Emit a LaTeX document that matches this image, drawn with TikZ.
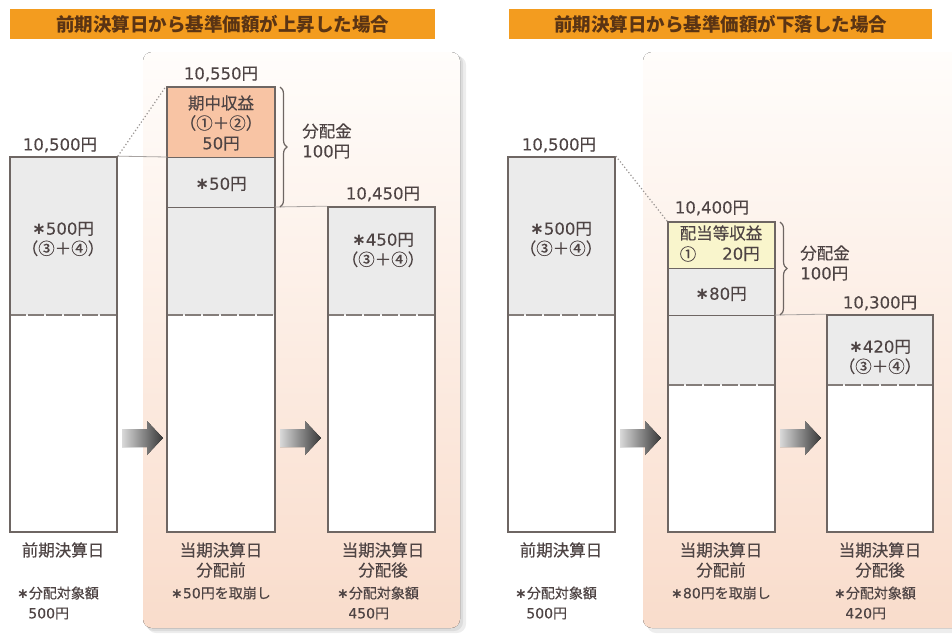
\documentclass[tikz,border=0pt]{standalone}
\usepackage{fontspec}
\newfontfamily\jp[FakeBold=0.35]{Noto Sans CJK JP}
\newfontfamily\jpt{Noto Sans CJK JP}
\newfontfamily\nm[FakeBold=0.15]{DejaVu Sans}
\newfontfamily\astfont{DejaVu Sans}
\newcommand{\num}[1]{{\nm #1}}
\newcommand{\kome}{{\astfont\bfseries ∗}}
\usetikzlibrary{decorations.pathreplacing}
\definecolor{titlebg}{HTML}{F39C1F}
\definecolor{titletx}{HTML}{5A3414}
\definecolor{txtc}{HTML}{4E4444}
\definecolor{boxc}{HTML}{6E6663}
\definecolor{greyf}{HTML}{EBEBEB}
\definecolor{orangef}{HTML}{F8C4A4}
\definecolor{yellowf}{HTML}{F9F5CC}
\definecolor{paneltop}{HTML}{FFFDFB}
\definecolor{panelbot}{HTML}{F9DCCB}
\tikzset{
  titlebar/.style={fill=titlebg, inner sep=0, text=titletx, font=\jpt\bfseries\fontsize{18.5}{20}\selectfont},
  panel/.style={rounded corners=9pt, top color=paneltop, bottom color=panelbot, draw=none},
  shadowbox/.style={rounded corners=9pt, fill=black, opacity=0.07},
  bar/.style={draw=boxc, line width=1.7pt, inner sep=0, fill=none},
  txt/.style={font=\jp\fontsize{16.5}{20}\selectfont, text=txtc, align=center, inner sep=0},
  smalltxt/.style={font=\jp\fontsize{14}{20}\selectfont, text=txtc, align=left, inner sep=0},
  sep/.style={draw=boxc, line width=1pt},
  dashsep/.style={draw=boxc!85, line width=1.1pt, dash pattern=on 16pt off 2pt},
  dotline/.style={draw=boxc!70, line width=1.2pt, dash pattern=on 1.2pt off 2.2pt},
  brc/.style={draw=boxc, line width=1.2pt, decorate, decoration={brace, amplitude=7pt}},
  blockarrow/.style={left color=black!15, right color=black!78, draw=none}
}
\begin{document}
\begin{tikzpicture}[x=1pt,y=-1pt]
\useasboundingbox (0,0) rectangle (952,633);
\fill[white] (0,0) rectangle (952,633);
% panels
\fill[shadowbox] (147,56) rectangle (466,633);
\fill[shadowbox] (145,54) rectangle (463,631);
\fill[panel] (143,52) rectangle (460,628);
\fill[shadowbox] (647,56) rectangle (970,633);
\fill[panel] (643,52) rectangle (965,628);
% titles
\node[titlebar, minimum width=425pt, minimum height=30pt] (t1) at (222.5,24) {前期決算日から基準価額が上昇した場合};
\node[titlebar, minimum width=423pt, minimum height=30pt] (t2) at (720.5,24) {前期決算日から基準価額が下落した場合};

% ---------- left case ----------
\fill[white] (10,157) rectangle (117,532);
\fill[greyf] (10,157) rectangle (117,315);
\fill[white] (167,87) rectangle (275,532);
\fill[orangef] (167,87) rectangle (275,157);
\fill[greyf] (167,157) rectangle (275,315);
\fill[white] (328,207) rectangle (435,532);
\fill[greyf] (328,207) rectangle (435,315);
\draw[dashsep] (10,315) -- (117,315);
\draw[dashsep] (167,315) -- (275,315);
\draw[dashsep] (328,315) -- (435,315);
\node[bar, minimum width=107pt, minimum height=375pt] (A) at (63.5,344.5) {};
\node[bar, minimum width=108pt, minimum height=445pt] (B) at (221,309.5) {};
\node[bar, minimum width=107pt, minimum height=325pt] (C) at (381.5,369.5) {};
\coordinate (B157w) at (167,157);
\coordinate (B157e) at (275,157);
\coordinate (B207w) at (167,207);
\coordinate (B207e) at (275,207);
\draw[sep] (B157w) -- (B157e);
\draw[sep] (B207w) -- (B207e);
\draw[boxc!60, line width=0.8pt] (A.north east) -- (B157w);
\draw[boxc!60, line width=0.8pt] (B207e) -- (C.north west);
\draw[dotline] (A.north east) -- (B.north west);
\draw[brc] (280,87) -- (280,207);

\node[txt] (vA) at (60,145) {\num{10,500}円};
\node[txt] (vB) at (221,74) {\num{10,550}円};
\node[txt] (vC) at (383,194) {\num{10,450}円};
\node[txt] (a1) at (63,239) {\kome\num{500}円\\（③＋④）};
\node[txt] (b1) at (221,123) {期中収益\\（①＋②）\\\num{50}円};
\node[txt] (b2) at (221,184) {\kome\num{50}円};
\node[txt] (c1) at (383,250) {\kome\num{450}円\\（③＋④）};
\node[txt, align=left] (d1) at (327,141) {分配金\\\num{100}円};

\fill[blockarrow] (122,429) -- (147,429) -- (147,421) -- (163,438) -- (147,455) -- (147,447) -- (122,447) -- cycle;
\fill[blockarrow] (280,429) -- (305,429) -- (305,421) -- (321,438) -- (305,455) -- (305,447) -- (280,447) -- cycle;

\node[txt] (lA) at (63,550) {前期決算日};
\node[txt] (lB) at (221,560) {当期決算日\\分配前};
\node[txt] (lC) at (383,560) {当期決算日\\分配後};
\node[smalltxt] (sA) at (58,603) {\kome 分配対象額\\\hspace*{0.8em}\num{500}円};
\node[smalltxt] (sB) at (221,593) {\kome\num{50}円を取崩し};
\node[smalltxt] (sC) at (378,603) {\kome 分配対象額\\\hspace*{0.8em}\num{450}円};

% ---------- right case ----------
\fill[white] (508,157) rectangle (615,532);
\fill[greyf] (508,157) rectangle (615,315);
\fill[white] (668,222) rectangle (775,532);
\fill[yellowf] (668,222) rectangle (775,268);
\fill[greyf] (668,268) rectangle (775,385);
\fill[white] (827,315) rectangle (933,532);
\fill[greyf] (827,315) rectangle (933,385);
\draw[dashsep] (508,315) -- (615,315);
\draw[dashsep] (668,385) -- (775,385);
\draw[dashsep] (827,385) -- (933,385);
\node[bar, minimum width=107pt, minimum height=375pt] (D) at (561.5,344.5) {};
\node[bar, minimum width=107pt, minimum height=310pt] (E) at (721.5,377) {};
\node[bar, minimum width=106pt, minimum height=217pt] (F) at (880,423.5) {};
\coordinate (E268w) at (668,268);
\coordinate (E268e) at (775,268);
\coordinate (E315w) at (668,315);
\coordinate (E315e) at (775,315);
\draw[sep] (E268w) -- (E268e);
\draw[sep] (E315w) -- (E315e);
\draw[boxc!60, line width=0.8pt] (E315e) -- (F.north west);
\draw[dotline] (D.north east) -- (E.north west);
\draw[brc] (780,222) -- (780,315);

\node[txt] (vD) at (559,145) {\num{10,500}円};
\node[txt] (vE) at (712,208) {\num{10,400}円};
\node[txt] (vF) at (880,303) {\num{10,300}円};
\node[txt] (dd1) at (561,239) {\kome\num{500}円\\（③＋④）};
\node[txt] (e1) at (721,233) {配当等収益};
\node[txt] (e2) at (688,254) {①};
\node[txt] (e3) at (741,254) {\num{20}円};
\node[txt] (e4) at (721,294) {\kome\num{80}円};
\node[txt] (f1) at (880,357) {\kome\num{420}円\\（③＋④）};
\node[txt, align=left] (d2) at (825,263) {分配金\\\num{100}円};

\fill[blockarrow] (620,429) -- (645,429) -- (645,421) -- (661,438) -- (645,455) -- (645,447) -- (620,447) -- cycle;
\fill[blockarrow] (780,429) -- (805,429) -- (805,421) -- (821,438) -- (805,455) -- (805,447) -- (780,447) -- cycle;

\node[txt] (lD) at (561,550) {前期決算日};
\node[txt] (lE) at (721,560) {当期決算日\\分配前};
\node[txt] (lF) at (880,560) {当期決算日\\分配後};
\node[smalltxt] (sD) at (556,603) {\kome 分配対象額\\\hspace*{0.8em}\num{500}円};
\node[smalltxt] (sE) at (721,593) {\kome\num{80}円を取崩し};
\node[smalltxt] (sF) at (875,603) {\kome 分配対象額\\\hspace*{0.8em}\num{420}円};
\end{tikzpicture}
\end{document}
